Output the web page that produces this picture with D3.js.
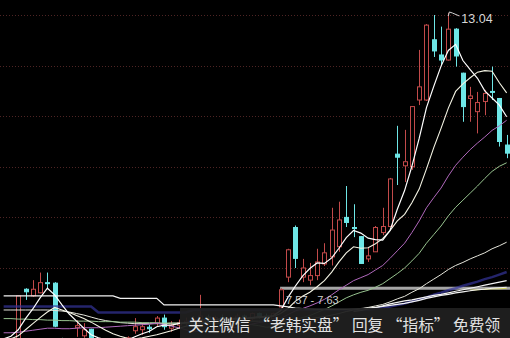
<!DOCTYPE html>
<html>
<head>
<meta charset="utf-8">
<script src="https://cdn.jsdelivr.net/npm/d3@7/dist/d3.min.js"></script>
<style>
body { margin: 0; background: #000; overflow: hidden; }
</style>
</head>
<body>
<div id="chart"></div>
<script>
// daily candles (prices)
var opens  = [6.50,6.55,6.55,7.58,7.45,7.51,7.71,7.70,6.60,6.50, 6.82,6.66,6.79,6.55,6.50,6.52,6.48,6.55,6.76,6.78,
              6.83,6.91,7.01,6.81,6.87,6.92,6.95,6.92,7.03,6.98, 7.02,6.95,7.00,7.05,7.00,7.10,7.05,7.00,7.23,7.82,
              8.80,7.82,7.76,7.85,8.08,8.22,8.42,9.00,8.80,8.62, 8.18,8.32,8.70,8.82,10.25,10.02,10.00,11.32,11.32,12.51,
              12.21,12.11,12.72,11.85,11.35,11.09,11.29,11.49,11.35,10.43];
var highs  = [6.60,6.62,7.45,7.60,7.76,7.91,7.91,7.72,6.62,6.60, 6.97,6.91,6.80,6.60,6.58,6.60,6.58,6.65,7.01,6.92,
              6.88,7.05,7.08,6.95,6.98,7.02,7.05,7.47,7.08,7.06, 7.08,7.05,7.10,7.08,7.12,7.12,7.10,7.12,7.60,8.38,
              8.84,8.18,8.10,8.38,8.49,9.19,9.31,9.62,9.26,8.63, 8.40,8.83,9.19,9.78,10.81,10.73,11.20,12.31,12.82,13.00,
              12.77,13.04,12.74,11.86,11.58,11.48,11.52,11.98,11.36,10.63];
var lows   = [6.40,6.45,6.50,7.37,7.43,7.50,7.60,6.83,6.40,6.45, 6.64,6.62,6.45,6.40,6.42,6.45,6.40,6.50,6.70,6.68,
              6.72,6.85,6.78,6.74,6.80,6.85,6.88,6.88,6.92,6.90, 6.93,6.90,6.96,6.95,6.97,7.00,6.96,6.95,7.20,7.72,
              8.00,7.72,7.66,7.76,8.04,8.05,8.32,8.81,8.61,8.08, 8.12,8.32,8.65,8.81,9.64,9.70,9.94,11.22,11.30,12.17,
              12.01,12.10,11.98,10.89,10.89,10.66,11.02,11.32,10.40,10.17];
var closes = [6.55,6.58,7.45,7.53,7.58,7.71,7.70,6.85,6.50,6.58, 6.86,6.78,6.55,6.50,6.52,6.48,6.55,6.62,6.84,6.84,
              6.80,7.01,6.84,6.87,6.92,6.95,6.90,7.05,6.98,7.02, 6.95,7.00,7.05,7.00,7.10,7.05,7.00,7.10,7.57,8.36,
              8.19,8.00,7.85,8.12,8.30,8.75,8.95,8.90,8.78,8.09, 8.24,8.80,8.82,9.76,10.19,10.10,11.19,11.58,12.80,12.29,
              12.11,12.72,12.19,11.19,11.40,11.27,11.45,11.48,10.50,10.27];

// moving averages as they appear on the picture
var ma5  = [6.60,6.65,6.78,7.00,7.19,7.41,7.60,7.47,7.27,7.09, 6.95,6.81,6.68,6.62,6.58,6.55,6.55,6.58,6.64,6.70,
            6.75,6.84,6.87,6.87,6.90,6.92,6.93,6.97,6.98,6.98, 7.00,7.00,7.01,7.00,7.02,7.04,7.04,7.06,7.16,7.42,
            7.64,7.84,7.99,8.10,8.09,8.20,8.39,8.60,8.74,8.69, 8.59,8.56,8.55,8.74,9.16,9.53,10.01,10.56,11.17,11.59,
            11.99,12.30,12.42,12.10,11.92,11.75,11.50,11.36,11.22,10.99];
var ma10 = [6.55,6.60,6.66,6.78,6.90,7.02,7.13,7.22,7.17,7.12, 7.06,7.00,6.93,6.85,6.77,6.70,6.65,6.61,6.60,6.62,
            6.65,6.68,6.72,6.76,6.81,6.85,6.88,6.92,6.94,6.95, 6.96,6.98,6.99,7.00,7.01,7.02,7.03,7.04,7.10,7.20,
            7.34,7.44,7.52,7.63,7.75,7.92,8.12,8.30,8.42,8.39, 8.40,8.48,8.58,8.74,8.93,9.06,9.29,9.56,9.96,10.38,
            10.76,11.16,11.49,11.64,11.76,11.87,11.90,11.89,11.66,11.46];
var ma20 = [6.72,6.72,6.73,6.75,6.77,6.79,6.81,6.81,6.80,6.80, 6.81,6.82,6.82,6.82,6.83,6.84,6.85,6.86,6.87,6.88,
            6.89,6.91,6.88,6.85,6.82,6.78,6.74,6.75,6.77,6.79, 6.80,6.81,6.83,6.86,6.89,6.92,6.94,6.96,7.00,7.08,
            7.15,7.20,7.25,7.31,7.38,7.47,7.57,7.66,7.75,7.81, 7.87,7.96,8.05,8.19,8.34,8.49,8.70,8.93,9.19,9.39,
            9.58,9.82,10.03,10.19,10.34,10.47,10.59,10.72,10.81,10.92];
var ma30 = [7.00,7.00,6.99,6.99,6.98,6.98,6.97,6.97,6.96,6.96, 6.95,6.95,6.95,6.94,6.94,6.94,6.93,6.93,6.93,6.92,
            6.92,6.92,6.91,6.91,6.91,6.90,6.90,6.90,6.90,6.90, 6.91,6.92,6.91,6.89,6.88,6.86,6.83,6.84,6.88,6.94,
            6.98,7.02,7.06,7.12,7.18,7.25,7.33,7.41,7.47,7.52, 7.56,7.62,7.69,7.79,7.89,8.00,8.14,8.29,8.49,8.66,
            8.83,9.03,9.20,9.34,9.48,9.62,9.77,9.91,10.01,10.08];
var ma60 = [7.17,7.17,7.17,7.17,7.17,7.17,7.17,7.16,7.15,7.13, 7.10,7.07,7.03,6.99,6.96,6.94,6.92,6.91,6.90,6.90,
            6.90,6.90,6.90,6.91,6.91,6.92,6.92,6.93,6.93,6.94, 6.94,6.94,6.95,6.95,6.95,6.95,6.95,6.95,6.95,6.95,
            6.97,6.98,7.00,7.02,7.04,7.07,7.10,7.14,7.17,7.19, 7.22,7.25,7.28,7.33,7.39,7.44,7.52,7.59,7.69,7.78,
            7.87,7.97,8.05,8.11,8.18,8.24,8.30,8.38,8.44,8.51];
var ma90 = [null,null,null,null,null,null,null,null,null,null, null,null,null,null,null,null,null,null,null,null,
            null,null,null,null,null,null,null,null,null,null, null,null,null,null,null,null,null,null,null,null,
            null,null,null,null,null,null,null,null,7.14,7.16, 7.19,7.22,7.24,7.26,7.28,7.30,7.33,7.36,7.40,7.43,
            7.46,7.48,7.51,7.53,7.55,7.57,7.58,7.60,7.61,7.62];
var ma120 = [7.24,7.24,7.24,7.24,7.24,7.24,7.24,7.24,7.24,7.24, 7.24,7.24,7.24,7.12,7.12,7.12,7.12,7.12,7.12,7.12,
             7.12,7.12,7.12,7.12,7.12,7.12,7.17,7.17,7.17,7.17, 7.17,7.17,7.17,7.17,7.17,7.17,7.17,7.17,7.17,7.17,
             7.17,7.17,7.17,7.17,7.17,7.17,7.17,7.17,7.17,7.17, 7.17,7.19,7.21,7.24,7.27,7.30,7.34,7.38,7.42,7.47,
             7.51,7.56,7.60,7.65,7.69,7.73,7.78,7.82,7.87,7.92];
var ma250 = [7.45,7.45,7.45,7.45,7.45,7.45,7.45,7.45,7.45,7.45, 7.45,7.45,7.45,7.45,7.45,7.45,7.40,7.40,7.40,7.40,
             7.40,7.40,7.27,7.27,7.27,7.27,7.27,7.27,7.27,7.27, 7.27,7.27,7.27,7.27,7.27,7.27,7.27,7.27,7.25,7.23,
             7.21,7.20,7.19,7.18,7.18,7.18,7.18,7.18,7.19,7.20, 7.21,7.22,7.25,7.29,7.32,7.35,7.37,7.40,7.43,7.46,
             7.48,7.51,7.54,7.57,7.60,7.63,7.66,7.69,7.72,7.75];
var maYellow = [null,null,null,null,null,null,null,null,null,null, null,null,null,null,null,null,null,null,null,null,
                null,null,null,null,null,null,null,null,null,null, null,null,null,null,null,null,null,null,null,null,
                null,null,null,null,null,null,null,null,null,null, null,null,null,null,null,null,null,null,null,null,
                null,null,null,null,7.56,7.57,7.58,7.59,7.59,7.60];

var gridPrices = [8, 9, 10, 11, 12, 13];
var zone = [7.57, 7.63];
var zoneStart = 38;
var peakIndex = 61;
var peakLabel = "13.04";
var notice = "关注微信 “老韩实盘” 回复 “指标” 免费领";

var width = 510, height = 338;

var svg = d3.select("#chart")
    .append("svg")
    .attr("width", width)
    .attr("height", height)
    .style("background", "#000");

var x = d3.scaleBand()
    .domain(d3.range(closes.length))
    .range([0, 510.3])
    .paddingInner(0.3)
    .paddingOuter(0.15);
var bw = x.bandwidth();
var cx = function(i) { return x(i) + bw / 2; };

var y = d3.scaleLinear()
    .domain([8, 13])
    .range([268, 15]);

// dotted price grid
svg.selectAll(".grid")
    .data(gridPrices)
    .enter()
    .append("line")
    .attr("x1", 0)
    .attr("x2", width)
    .attr("y1", function(d) { return Math.round(y(d)) + 0.5; })
    .attr("y2", function(d) { return Math.round(y(d)) + 0.5; })
    .attr("stroke", "#4e2424")
    .attr("stroke-dasharray", "1,2");

// support zone band
svg.append("rect")
    .attr("x", x(zoneStart) + 2)
    .attr("y", y(zone[1]))
    .attr("width", width - x(zoneStart) - 2)
    .attr("height", y(zone[0]) - y(zone[1]))
    .attr("fill", "#a6a6a6");

// candles
var candles = svg.selectAll(".candle")
    .data(closes)
    .enter()
    .append("g")
    .attr("class", "candle");

candles.append("line")
    .attr("x1", function(d, i) { return Math.round(cx(i)) + 0.5; })
    .attr("x2", function(d, i) { return Math.round(cx(i)) + 0.5; })
    .attr("y1", function(d, i) { return y(highs[i]); })
    .attr("y2", function(d, i) { return y(lows[i]); })
    .attr("stroke", function(d, i) { return d > opens[i] ? "#c24a4a" : "#6ee6e6"; });

candles.append("rect")
    .attr("x", function(d, i) { return Math.round(cx(i)) - 2 + 0.5; })
    .attr("y", function(d, i) { return y(Math.max(d, opens[i])); })
    .attr("width", 4)
    .attr("height", function(d, i) { return Math.max(1, Math.abs(y(d) - y(opens[i]))); })
    .attr("fill", function(d, i) { return d > opens[i] ? "#000" : "#6ee6e6"; })
    .attr("stroke", function(d, i) { return d > opens[i] ? "#c24a4a" : "#6ee6e6"; })
    .attr("stroke-width", 1);

// moving average lines
var line = d3.line()
    .defined(function(d) { return d != null; })
    .x(function(d, i) { return cx(i); })
    .y(function(d) { return y(d); });

var series = [
    {values: ma120, color: "#34349a", w: 2.5, op: 0.7},
    {values: ma250, color: "#f2f2f2", w: 1.2, op: 1},
    {values: maYellow, color: "#d6d65a", w: 1.2, op: 1},
    {values: ma90, color: "#f0f0f0", w: 1.2, op: 1},
    {values: ma60, color: "#e6e6dc", w: 1, op: 1},
    {values: ma30, color: "#98c490", w: 1, op: 1},
    {values: ma20, color: "#b068bc", w: 1, op: 1},
    {values: ma10, color: "#f4f4e4", w: 1.1, op: 1},
    {values: ma5, color: "#ffffff", w: 1.2, op: 1}
];

svg.selectAll(".ma")
    .data(series)
    .enter()
    .append("path")
    .attr("class", "ma")
    .attr("d", function(d) { return line(d.values); })
    .attr("fill", "none")
    .attr("stroke", function(d) { return d.color; })
    .attr("stroke-width", function(d) { return d.w; })
    .attr("opacity", function(d) { return d.op; });

// zone label
svg.append("text")
    .attr("x", x(zoneStart) + 8)
    .attr("y", y(zone[0]) + 14)
    .style("font-family", "Liberation Sans, Arial, sans-serif")
    .style("font-size", "11px")
    .attr("fill", "#cfcfcf")
    .text(zone[0].toFixed(2) + " - " + zone[1].toFixed(2));

// peak marker
var px = cx(peakIndex), py = y(highs[peakIndex]);
svg.append("polyline")
    .attr("points", [[px, py + 3], [px + 1, py - 1], [px + 4, py], [px + 11, py + 3]].join(" "))
    .attr("fill", "none")
    .attr("stroke", "#d0d0d0")
    .attr("stroke-width", 1);
svg.append("text")
    .attr("x", px + 13)
    .attr("y", py + 10)
    .style("font-family", "Liberation Sans, Arial, sans-serif")
    .style("font-size", "12.5px")
    .attr("fill", "#d6d6d6")
    .text(peakLabel);

// watermark strip
svg.append("rect")
    .attr("x", 180)
    .attr("y", 308)
    .attr("width", 330)
    .attr("height", 30)
    .attr("fill", "#202020")
    .attr("opacity", 0.94);
svg.append("text")
    .attr("x", 188)
    .attr("y", 331)
    .style("font-family", "Noto Sans CJK SC, sans-serif")
    .style("font-size", "15.7px")
    .attr("fill", "#e2e2e2")
    .text(notice);
</script>
</body>
</html>
